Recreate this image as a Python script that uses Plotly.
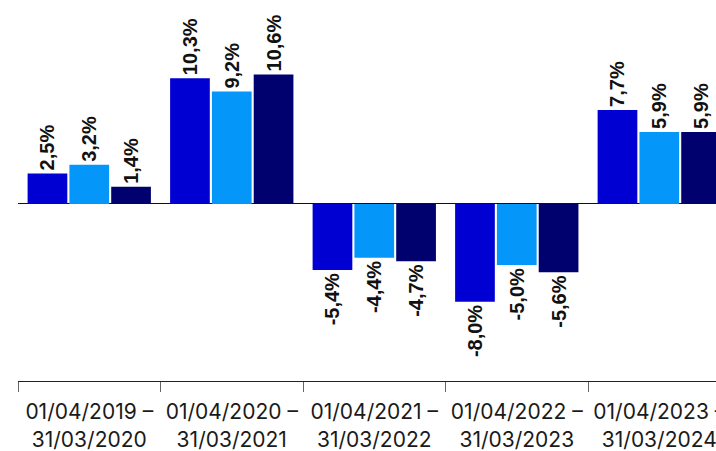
import plotly.graph_objects as go

# Periods on the x axis
periods = [
    "01/04/2019 –<br>31/03/2020",
    "01/04/2020 –<br>31/03/2021",
    "01/04/2021 –<br>31/03/2022",
    "01/04/2022 –<br>31/03/2023",
    "01/04/2023 –<br>31/03/2024",
]

# Yearly returns (%) for the three series
series_a = [2.5, 10.3, -5.4, -8.0, 7.7]
series_b = [3.2, 9.2, -4.4, -5.0, 5.9]
series_c = [1.4, 10.6, -4.7, -5.6, 5.9]

colors = ["#0000d2", "#0596fa", "#00006e"]

fig = go.Figure()
for vals, col in zip([series_a, series_b, series_c], colors):
    fig.add_trace(go.Bar(
        x=periods,
        y=vals,
        marker=dict(color=col, line=dict(width=0)),
        text=[f"{v:.1f}%".replace(".", ",") for v in vals],
        textposition="outside",
        textangle=-90,
        textfont=dict(family="Liberation Sans", size=20, color="#111111",
                      weight="bold"),
        cliponaxis=False,
        showlegend=False,
    ))

fig.update_layout(
    width=716,
    height=451,
    margin=dict(l=18, r=0, t=0, b=70),
    plot_bgcolor="white",
    paper_bgcolor="white",
    bargap=0.12,
    bargroupgap=0.05,
    uniformtext=dict(minsize=20, mode="show"),
)
fig.update_xaxes(
    range=[-0.5, 4.398],
    automargin=False,
    showline=True,
    linecolor="#222222",
    linewidth=1,
    ticks="outside",
    tickson="boundaries",
    ticklen=10,
    tickcolor="#666666",
    ticklabelstandoff=12,
    tickfont=dict(family="Inter", size=21, color="#1a1a1a"),
    showgrid=False,
)
fig.update_yaxes(
    range=[-14.5, 16.7],
    automargin=False,
    showgrid=False,
    showticklabels=False,
    zeroline=True,
    zerolinecolor="#111111",
    zerolinewidth=1,
)

# drop the page's default body margin so the figure sits at the window corner
fig.write_html("out.html", config={"displayModeBar": False},
               post_script="document.body.style.margin='0';")
